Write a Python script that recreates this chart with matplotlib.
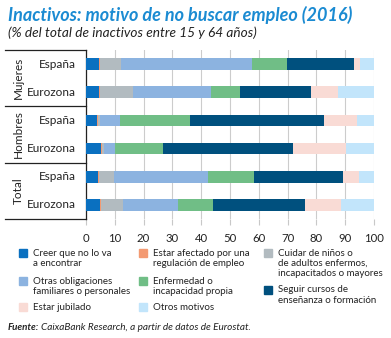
import numpy as np
import matplotlib.pyplot as plt
from matplotlib.patches import Rectangle

plt.rcParams['font.family'] = ['Lato', 'DejaVu Sans']

# rows from top to bottom
groups = ['Mujeres', 'Hombres', 'Total']
rows = ['España', 'Eurozona', 'España', 'Eurozona', 'España', 'Eurozona']

labels = ['Creer que no lo va\na encontrar',
          'Estar afectado por una\nregulación de empleo',
          'Cuidar de niños o\nde adultos enfermos,\nincapacitados o mayores',
          'Otras obligaciones\nfamiliares o personales',
          'Enfermedad o\nincapacidad propia',
          'Seguir cursos de\nenseñanza o formación',
          'Estar jubilado',
          'Otros motivos']
colors = ['#0a70c0', '#f39a72', '#b2bbc0', '#8cb3e0', '#70be86', '#00507e', '#f9dbd5', '#c2e5fb']

# % per reason, one list per reason, rows in order above
creer = [4.6, 4.4, 3.7, 5.1, 4.2, 4.7]
afectado = [0.1, 0.3, 0.3, 0.5, 0.3, 0.4]
cuidar = [7.5, 11.5, 0.9, 0.8, 5.2, 7.7]
otras = [45.5, 27.3, 7.0, 3.8, 32.8, 19.0]
enfermedad = [12.1, 9.8, 24.1, 16.6, 15.9, 12.2]
cursos = [23.1, 24.9, 46.7, 45.1, 31.0, 32.0]
jubilado = [2.4, 9.4, 11.4, 18.5, 5.5, 12.7]
otros = [4.8, 12.4, 5.8, 9.6, 5.1, 11.3]
series = [creer, afectado, cuidar, otras, enfermedad, cursos, jubilado, otros]

W, H = 391, 338
fig = plt.figure(figsize=(W / 100, H / 100), dpi=100)
ax = fig.add_axes([86 / W, 1 - 219 / H, 288 / W, 169 / H])

y = np.arange(len(rows))
left = np.zeros(len(rows))
for vals, c in zip(series, colors):
    ax.barh(y, vals, left=left, height=0.42, color=c, zorder=3)
    left += np.array(vals)

ax.set_xlim(0, 100)
ax.set_ylim(len(rows) - 0.5, -0.5)
ax.set_xticks(np.arange(0, 101, 10))
ax.tick_params(axis='x', length=4, color='#c8c8c8', labelsize=8.2, pad=6, labelcolor='#222222')
ax.set_yticks([])
ax.grid(axis='x', color='#cccccc', lw=0.8, zorder=0)
for s in ['top', 'right', 'bottom']:
    ax.spines[s].set_visible(False)
ax.spines['left'].set_color('#222222')
ax.spines['left'].set_linewidth(0.9)

# row labels and group labels
for i, r in enumerate(rows):
    ax.text(-0.035, i, r, transform=ax.get_yaxis_transform(), ha='right', va='center',
            fontsize=8.5, color='#222222')
for g, name in enumerate(groups):
    yc = 2 * g + 0.5
    ax.text(-0.235, yc, name, transform=ax.get_yaxis_transform(), ha='center', va='center',
            rotation=90, fontsize=8.5, color='#222222')
for b in [-0.5, 1.5, 3.5, 5.5]:
    ax.plot([-0.28, 0], [b, b], transform=ax.get_yaxis_transform(), color='#222222',
            lw=0.9, clip_on=False)

# title
fig.text(8 / W, 1 - 15 / H, 'Inactivos: motivo de no buscar empleo (2016)', fontsize=13,
         fontweight='bold', fontstyle='italic', color='#1b8bd2', va='center')
fig.text(8 / W, 1 - 33 / H, '(% del total de inactivos entre 15 y 64 años)', fontsize=9.8,
         fontstyle='italic', color='#222222', va='center')

# legend
pos = [(19, 253), (139, 253), (264, 253),
       (19, 281), (139, 281), (264, 290),
       (19, 307), (139, 307)]
for (px, py), lab, c in zip(pos, labels, colors):
    fig.patches.append(Rectangle((px / W, 1 - (py + 4) / H), 8 / W, 8 / H,
                                 transform=fig.transFigure, color=c))
    fig.text((px + 14) / W, 1 - (py - 4.5) / H, lab, fontsize=7.0, va='top', ha='left',
             linespacing=1.2, color='#222222')

fig.text(8 / W, 1 - 328 / H, 'Fuente:', fontsize=7, fontweight='bold', fontstyle='italic',
         va='center', color='#222222')
fig.text(41 / W, 1 - 328 / H, 'CaixaBank Research, a partir de datos de Eurostat.', fontsize=7.2,
         fontstyle='italic', va='center', color='#222222')

fig.savefig('out.png', dpi=100)
